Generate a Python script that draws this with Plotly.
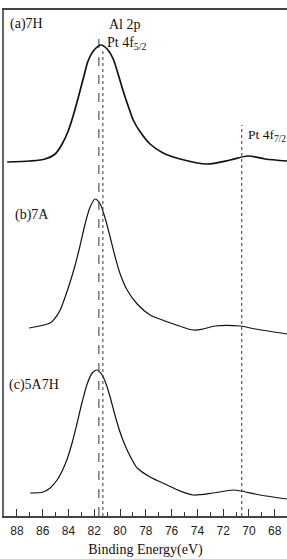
import plotly.graph_objects as go

# Binding energy (eV) and intensity (a.u., stacked with offsets) for each spectrum
energy_a = [88.75, 86.97, 85.81, 85.03, 84.49, 84.02, 83.64, 83.25, 82.84, 82.48, 82.01, 81.47, 81.00, 80.53, 80.15, 79.76, 79.37, 78.98, 78.43, 77.67, 76.66, 75.34, 73.25, 71.46, 70.07, 68.75, 67.05]
intensity_a = [354, 355, 357, 362, 372, 385, 400, 418, 438, 455, 466, 471, 467, 457, 442, 425, 410, 396, 384, 372, 363, 357, 352, 356, 360, 357, 355]

energy_b = [87.05, 85.42, 85.03, 84.64, 84.26, 83.87, 83.48, 83.09, 82.71, 82.32, 81.93, 81.54, 81.16, 80.77, 80.38, 79.99, 79.45, 78.67, 77.67, 76.51, 75.40, 74.33, 73.56, 72.63, 70.69, 69.53, 67.05]
intensity_b = [188, 193, 198, 206, 219, 234, 251, 271, 292, 309, 317, 312, 298, 279, 259, 242, 226, 212, 201, 195, 190, 186, 187, 190, 190, 187, 182]

energy_c = [86.97, 85.96, 85.42, 84.88, 84.49, 84.10, 83.72, 83.33, 82.94, 82.55, 82.16, 81.78, 81.39, 81.08, 80.77, 80.46, 80.15, 79.84, 79.45, 79.06, 78.67, 77.67, 76.35, 75.34, 74.33, 72.78, 71.22, 70.61, 69.14, 67.05]
intensity_c = [23, 24, 28, 36, 45, 57, 73, 93, 114, 132, 143, 146, 141, 132, 119, 104, 90, 78, 66, 56, 48, 39, 31, 25, 21, 23, 26, 25, 21, 17]

sample_labels = ["(a)7H", "(b)7A", "(c)5A7H"]
label_energy = [88.67, 88.29, 88.75]
label_level = [492, 301, 131]

ref_names = ["Al 2p", "Pt 4f<sub>5/2</sub>", "Pt 4f<sub>7/2</sub>"]
ref_energy = [81.64, 81.33, 70.56]
ref_top = [484, 466, 391]
ref_dash = ["dash", "dot", "dot"]
ref_label_energy = [81.05, 81.2, 70.22]
ref_label_level = [492, 473, 381]
ref_label_size = [14, 14, 13.5]

tick_vals = [88, 86, 84, 82, 80, 78, 76, 74, 72, 70, 68]

fig = go.Figure()
for ex, iy, w in [(energy_a, intensity_a, 1.7), (energy_b, intensity_b, 1.2), (energy_c, intensity_c, 1.2)]:
    fig.add_trace(go.Scatter(x=ex, y=iy, mode="lines",
                             line=dict(color="#111111", width=w, shape="spline", smoothing=0.8),
                             showlegend=False, hoverinfo="skip"))

for e, top, d in zip(ref_energy, ref_top, ref_dash):
    fig.add_shape(type="line", x0=e, x1=e, y0=0, y1=top, xref="x", yref="y",
                  line=dict(color="#333333", width=1, dash=d))

serif = "Liberation Serif, Times New Roman, serif"
for t, e, v in zip(sample_labels, label_energy, label_level):
    fig.add_annotation(x=e, y=v, text=t, showarrow=False, xanchor="left", yanchor="middle",
                       font=dict(family=serif, size=14, color="#111111"))
for t, e, v, s in zip(ref_names, ref_label_energy, ref_label_level, ref_label_size):
    fig.add_annotation(x=e, y=v, text=t, showarrow=False, xanchor="left", yanchor="middle",
                       font=dict(family=serif, size=s, color="#111111"))

fig.update_layout(
    width=287, height=559,
    margin=dict(l=4, r=0, t=10, b=43),
    paper_bgcolor="white", plot_bgcolor="white",
    xaxis=dict(range=[89, 67.05], tickvals=tick_vals, ticktext=[str(v) for v in tick_vals],
               ticks="inside", ticklen=7, tickwidth=1, tickcolor="#333333",
               minor=dict(dtick=1, tick0=87, ticks="inside", ticklen=4, tickwidth=1, tickcolor="#333333", showgrid=False),
               showline=True, linecolor="#444444", linewidth=2, mirror=True,
               showgrid=False, zeroline=False, ticklabelstandoff=3,
               tickfont=dict(family="Liberation Sans, Arial, sans-serif", size=12, color="#222222"),
               title=dict(text="Binding Energy(eV)", standoff=7,
                          font=dict(family=serif, size=14, color="#111111"))),
    yaxis=dict(range=[0, 506], showticklabels=False, ticks="", showgrid=False, zeroline=False,
               showline=True, linecolor="#666666", linewidth=1.5),
)

fig.write_html("out.html")
